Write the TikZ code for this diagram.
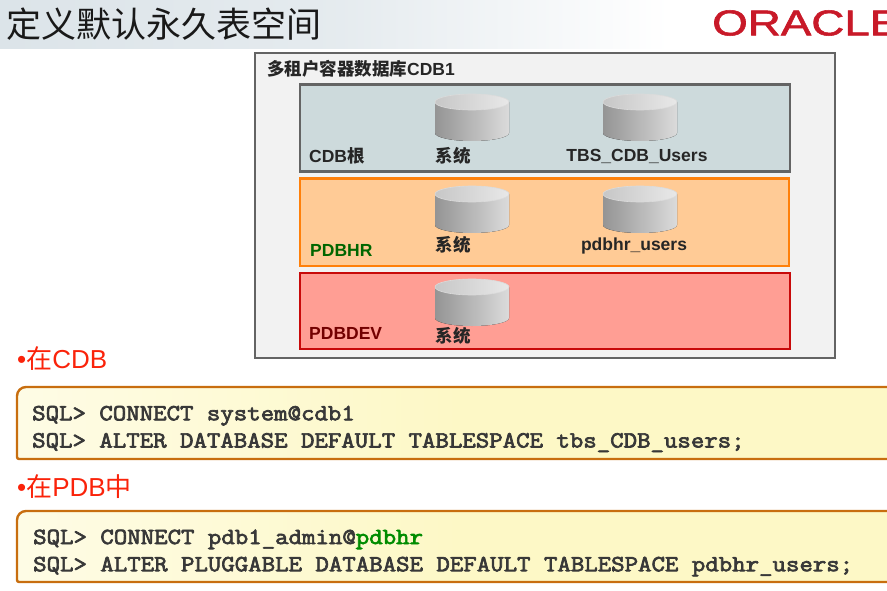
\documentclass[tikz,border=0pt]{standalone}
\usepackage{fontspec}
\setmainfont{Liberation Sans}
\newfontfamily\cjk{Noto Sans CJK SC}
\newfontfamily\sqlfont{Latin Modern Mono}[FakeBold=3,FakeStretch=1.13]
\newfontfamily\logofont{Liberation Sans}[FakeBold=1.5]
\usepackage{xcolor}
\usetikzlibrary{calc,positioning}
\definecolor{ctitle}{RGB}{220,228,233}
\definecolor{coracle}{RGB}{200,25,40}
\definecolor{cframe}{RGB}{100,100,100}
\definecolor{croot}{RGB}{205,218,220}
\definecolor{chr}{RGB}{255,203,150}
\definecolor{chrline}{RGB}{255,128,10}
\definecolor{cdev}{RGB}{255,158,148}
\definecolor{cdevline}{RGB}{200,10,10}
\definecolor{ccode}{RGB}{253,248,198}
\definecolor{ccodeline}{RGB}{200,110,15}
\definecolor{cbullet}{RGB}{250,35,10}
\newcommand{\zh}[1]{{\cjk #1}}
\tikzset{
  tier/.style={rectangle,anchor=north west,inner sep=0pt,line width=2.4pt},
  rootbox/.style={tier,fill=croot,draw=cframe},
  hrbox/.style={tier,fill=chr,draw=chrline},
  devbox/.style={tier,fill=cdev,draw=cdevline},
  lab/.style={font=\fontsize{17.5}{19}\selectfont\bfseries,text=black!85,inner sep=0pt},
  bullet/.style={font=\fontsize{26}{28}\selectfont,text=cbullet,inner sep=0pt,anchor=west},
  sql/.style={font=\sqlfont\fontsize{23.1}{27.2}\selectfont,text=black!78,
    align=left,inner sep=0pt,anchor=west},
  codebox/.style={left color=ccode!45,right color=ccode,middle color=ccode},
  codeline/.style={line width=2.4pt,draw=ccodeline},
  disk/.pic={
    \fill[left color=black!42,right color=black!14,middle color=black!28]
      (-37,-16) -- (-37,15) arc[start angle=180,end angle=0,x radius=37,y radius=8]
      -- (37,-16) -- cycle;
    \draw[black!14,line width=.6pt,left color=black!22,right color=black!9] (0,-16) ellipse[x radius=37,y radius=8];
  }
}
\begin{document}
\begin{tikzpicture}[x=1pt,y=-1pt]
  \useasboundingbox (0,0) rectangle (887,591);
  % title band
  \fill[left color=ctitle,right color=white,middle color=ctitle!75] (0,0) rectangle (670,49);
  \node[font=\cjk\fontsize{35}{38}\selectfont,text=black!90,inner sep=0pt,anchor=west] (title) at (6,24) {定义默认永久表空间};
  \node[font=\logofont\fontsize{36}{36}\selectfont,text=coracle,inner sep=0pt,anchor=west,xscale=1.27] (logo) at (712,23) {ORACLE};
  % container with the three tiers
  \node[rectangle,anchor=north west,inner sep=0pt,fill=black!5,draw=cframe,line width=2pt,
    minimum width=580,minimum height=304] (cdb) at (254,52.5) {};
  \node[lab,anchor=west] (cdblab) at (267,69) {\zh{多租户容器数据库}CDB1};
  \node[rootbox,minimum width=490,minimum height=87] (root) at (299,83.5) {};
  \node[hrbox,minimum width=489,minimum height=87] (hr) at (299,177.5) {};
  \node[devbox,minimum width=490,minimum height=76] (dev) at (299,271.5) {};
  % disks
  \pic at (472,118) {disk};
  \pic at (640,118) {disk};
  \pic at (472,210) {disk};
  \pic at (640,210) {disk};
  \pic at (472,303) {disk};
  \node[lab,anchor=west] (rootlab) at (309,156) {CDB\zh{根}};
  \node[lab] (rootsys) at (453,156) {\zh{系统}};
  \node[lab] (rootusers) at (637,156) {TBS\_CDB\_Users};
  \node[lab,anchor=west,text=green!40!black] (hrlab) at (310,250) {PDBHR};
  \node[lab] (hrsys) at (453,245) {\zh{系统}};
  \node[lab] (hrusers) at (634,246) {pdbhr\_users};
  \node[lab,anchor=west,text=red!45!black] (devlab) at (309,333) {PDBDEV};
  \node[lab] (devsys) at (453,336) {\zh{系统}};
  % statements
  \node[bullet] (incdb) at (17,359) {•\zh{在}CDB};
  \node[bullet] (inpdb) at (17,487) {•\zh{在}PDB\zh{中}};
  \path[codebox] (900,387) [rounded corners=9pt] -- (17,387) [rounded corners=2pt] -- (17,459) -- (900,459);
  \draw[codeline] (900,387) [rounded corners=9pt] -- (17,387) [rounded corners=2pt] -- (17,459) -- (900,459);
  \path[codebox] (900,511) [rounded corners=9pt] -- (17,511) [rounded corners=2pt] -- (17,582) -- (900,582);
  \draw[codeline] (900,511) [rounded corners=9pt] -- (17,511) [rounded corners=2pt] -- (17,582) -- (900,582);
  \node[sql] (sqlcdb) at (32,429) {SQL> CONNECT system@cdb1\\SQL> ALTER DATABASE DEFAULT TABLESPACE tbs\_CDB\_users;};
  \node[sql] (sqlpdb) at (33,553) {SQL> CONNECT pdb1\_admin@\textcolor{green!55!black}{pdbhr}\\SQL> ALTER PLUGGABLE DATABASE DEFAULT TABLESPACE pdbhr\_users;};
\end{tikzpicture}
\end{document}
